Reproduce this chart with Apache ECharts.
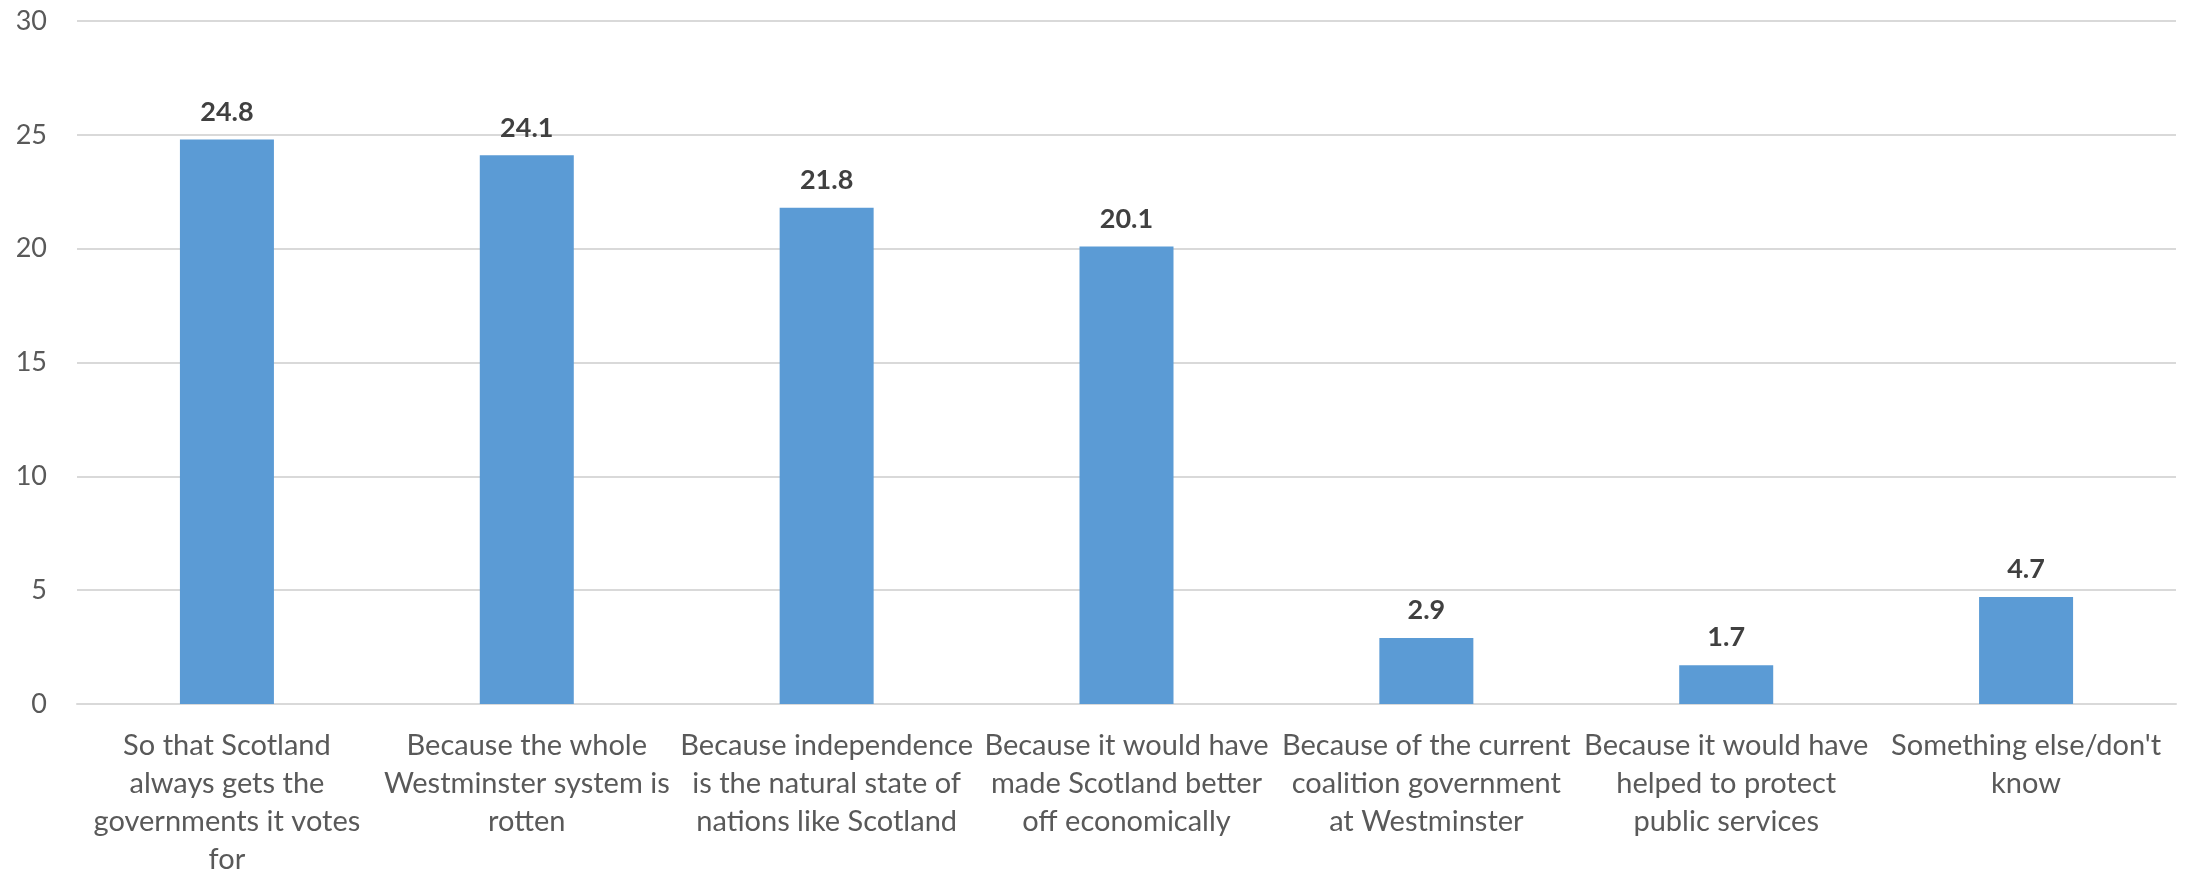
<!DOCTYPE html>
<html>
<head>
<meta charset="utf-8">
<script src="https://cdn.jsdelivr.net/npm/echarts@6/dist/echarts.min.js"></script>
<style>
html,body{margin:0;padding:0;background:#fff;}
#chart{width:2190px;height:879px;}
</style>
</head>
<body>
<div id="chart"></div>
<script>
const categories = [
  "So that Scotland\nalways gets the\ngovernments it votes\nfor",
  "Because the whole\nWestminster system is\nrotten",
  "Because independence\nis the natural state of\nnations like Scotland",
  "Because it would have\nmade Scotland better\noff economically",
  "Because of the current\ncoalition government\nat Westminster",
  "Because it would have\nhelped to protect\npublic services",
  "Something else/don't\nknow"
];
const values = [24.8, 24.1, 21.8, 20.1, 2.9, 1.7, 4.7];
const yTicks = { min: 0, max: 30, interval: 5 };

const chart = echarts.init(document.getElementById('chart'), null, {renderer: 'canvas'});
chart.setOption({
  animation: false,
  backgroundColor: '#ffffff',
  grid: { left: 77, right: 14, top: 21, bottom: 171, containLabel: false },
  xAxis: {
    type: 'category',
    data: categories,
    axisLine: { show: true, lineStyle: { color: '#D9D9D9', width: 2 } },
    axisTick: { show: false },
    axisLabel: {
      interval: 0,
      color: '#595959',
      fontFamily: 'Lato',
      fontSize: 29,
      lineHeight: 38,
      margin: 23,
      align: 'center'
    }
  },
  yAxis: {
    type: 'value',
    min: yTicks.min, max: yTicks.max, interval: yTicks.interval,
    axisLine: { show: false },
    axisTick: { show: false },
    splitLine: { lineStyle: { color: '#D9D9D9', width: 2 } },
    axisLabel: { color: '#595959', fontFamily: 'Lato', fontSize: 27, margin: 30 }
  },
  series: [{
    type: 'bar',
    data: values,
    barWidth: 94,
    itemStyle: { color: '#5B9BD5' },
    label: {
      show: true,
      position: 'top',
      distance: 14,
      color: '#404040',
      fontFamily: 'Lato',
      fontWeight: 'bold',
      fontSize: 27,
      formatter: p => p.value.toFixed(1)
    }
  }]
});
</script>
</body>
</html>
